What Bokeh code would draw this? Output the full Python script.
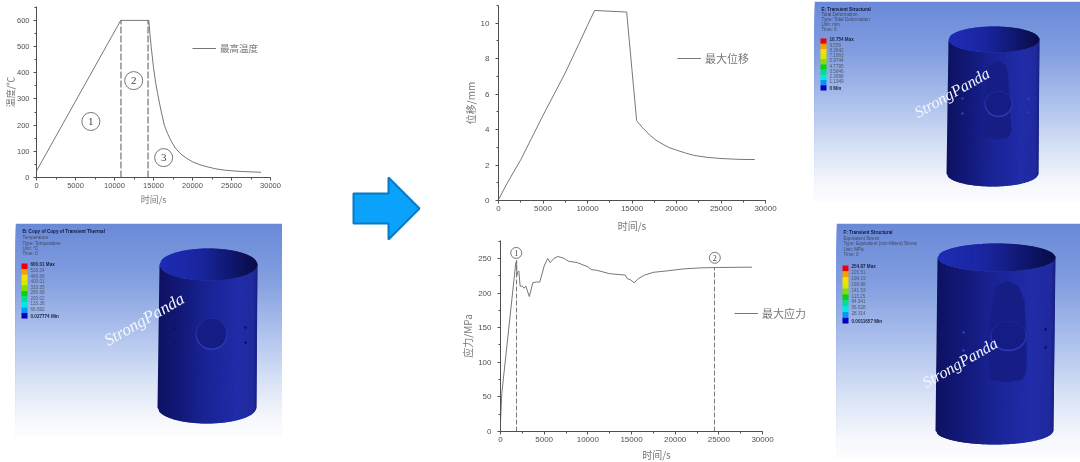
import numpy as np
from bokeh.core.properties import value
from bokeh.embed import file_html
from bokeh.layouts import column, row
from bokeh.models import Legend, LegendItem, Range1d, SingleIntervalTicker
from bokeh.plotting import figure
from bokeh.resources import INLINE

# ---- chart data ----
temp_t = [0, 10800, 14400, 14550, 14700, 15000, 15260, 15530, 16000, 16390, 16800, 17250, 17800, 18500, 19200, 20000, 21000, 22000, 23000, 24100, 26200, 28800]
temp_v = [25, 600, 600, 545, 500, 420, 365, 320, 250, 200, 168, 140, 112, 90, 74, 60, 48, 40, 33, 28, 23, 20]
temp_marks = [10830, 14300]
temp_mark_top = [600, 600]
temp_circle_t = [6970, 12460, 16300]
temp_circle_v = [214, 370, 76]
temp_circle_labels = ["1", "2", "3"]

disp_t = [0, 1000, 2500, 3700, 5000, 6250, 7500, 9000, 10000, 10800, 14400, 15000, 15520, 16200, 17020, 17700, 18500, 19200, 20000, 21000, 21900, 23500, 25000, 27000, 28800]
disp_v = [0.05, 1.0, 2.3, 3.5, 4.8, 6.0, 7.2, 8.8, 9.88, 10.72, 10.63, 7.35, 4.5, 4.1, 3.68, 3.4, 3.16, 2.98, 2.84, 2.68, 2.55, 2.43, 2.37, 2.32, 2.31]

stress_t = [0, 150, 1750, 1850, 1870, 1950, 2100, 2250, 2500, 2700, 2900, 3300, 3700, 4100, 4500, 5000, 5400, 5700, 6100, 6600, 7300,
            7800, 8800, 10000, 10400, 11000, 12500, 14300, 14500, 14900, 15300, 15800, 16500, 17500, 19000, 21000, 23000, 25000, 28800]
stress_v = [15, 55, 244, 247, 225, 230, 232, 210, 210, 207, 210, 195, 215, 216, 216, 239, 250, 244, 250, 253, 250,
            246, 244, 238, 234, 233, 228, 226, 221, 219, 215, 221, 226, 230, 232, 235, 236.5, 237, 237.5]
stress_marks = [1835, 24500]
stress_mark_top = [247, 237]
stress_circle_t = [1800, 24540]
stress_circle_v = [258, 251]
stress_circle_labels = ["1", "2"]

legend_colors = ["#ee0000", "#f5a000", "#f5e000", "#d8e800", "#80e000", "#00d800", "#00e090", "#00e8e8", "#0098f0", "#0000c0"]
temp_levels = ["600.01 Max", "533.34", "466.68", "400.01", "333.35", "266.68", "200.02", "133.36", "66.692", "0.027774 Min"]
disp_levels = ["10.754 Max", "9.559", "8.3642", "7.1693", "5.9744", "4.7795", "3.5846", "2.3898", "1.1949", "0 Min"]
stress_levels = ["254.87 Max", "226.51", "198.19", "169.88", "141.53", "113.25", "84.941", "56.628", "28.314", "0.0011657 Min"]
temp_head = ["B: Copy of Copy of Transient Thermal", "Temperature", "Type: Temperature", "Unit: °C", "Time: 0"]
disp_head = ["E: Transient Structural", "Total Deformation", "Type: Total Deformation", "Unit: mm", "Time: 0"]
stress_head = ["F: Transient Structural", "Equivalent Stress", "Type: Equivalent (von-Mises) Stress", "Unit: MPa", "Time: 0"]

AX = "#505050"
TXT = "#777777"
LINE = "#777777"
SANS = "Liberation Sans"
CJK = "Noto Sans CJK SC"
SOFT = {"filter": "blur(0.4px)"}


def chart(frame_w, frame_h, x_end, y_end, y_major, xlab, ylab, left, right, top, bottom, tick_font, standoff, xstand, lab_font="10px", ystand=0):
    p = figure(frame_width=frame_w, frame_height=frame_h, x_range=Range1d(0, x_end), y_range=Range1d(0, y_end),
               output_backend="svg", toolbar_location=None, min_border_left=left, min_border_right=right,
               min_border_top=top, min_border_bottom=bottom, outline_line_color=None, styles=SOFT)
    p.grid.visible = False
    p.xaxis.ticker = SingleIntervalTicker(interval=5000, num_minor_ticks=2)
    p.yaxis.ticker = SingleIntervalTicker(interval=y_major, num_minor_ticks=2)
    p.xaxis.bounds = (0, 30000)
    p.xaxis.axis_label = xlab
    p.yaxis.axis_label = ylab
    for ax in (p.xaxis[0], p.yaxis[0]):
        ax.axis_line_color = AX
        ax.major_tick_line_color = AX
        ax.minor_tick_line_color = AX
        ax.major_tick_out = 3
        ax.major_tick_in = 0
        ax.minor_tick_out = 2
        ax.minor_tick_in = 0
        ax.major_label_text_font = SANS
        ax.major_label_text_font_size = tick_font
        ax.major_label_text_color = AX
        ax.axis_label_text_font = CJK
        ax.axis_label_text_font_size = lab_font
        ax.axis_label_text_font_style = "normal"
        ax.axis_label_text_color = TXT
    p.yaxis.major_label_standoff = standoff
    p.yaxis.axis_label_standoff = ystand
    p.xaxis.major_label_standoff = 2
    p.xaxis.axis_label_standoff = xstand
    return p


def add_legend(p, r, label, x, y, size):
    lg = Legend(items=[LegendItem(label=label, renderers=[r])], location=(x, y), border_line_color=None,
                background_fill_alpha=0, padding=0, margin=0, glyph_width=24, glyph_height=8, label_standoff=4,
                label_text_font=CJK, label_text_font_size=size, label_text_color=TXT, label_height=10)
    p.add_layout(lg)


def circles(p, xs, ys, labels, size, font):
    p.scatter(xs, ys, marker="circle", size=size, fill_color=None, line_color="#555555", line_width=0.8)
    p.text(xs, ys, text=labels, text_font=value("Liberation Serif"), text_font_size=font, text_align="center",
           text_baseline="middle", text_color="#444444")


# ---- the three curves ----
f1 = chart(234, 171, 30000, 653, 100, "时间/s", "温度/℃", 36, 30, 6, 46, "7.5px", 4, 2, "9px", -3)
r1 = f1.line(temp_t, temp_v, line_color=LINE, line_width=1)
f1.segment(temp_marks, [0, 0], temp_marks, temp_mark_top, line_color="#555555", line_width=1, line_dash="7 2")
circles(f1, temp_circle_t, temp_circle_v, temp_circle_labels, 18, "11px")
add_legend(f1, r1, "最高温度", 156, 122, "9.5px")

f2 = chart(267, 195, 30000, 11, 2, "时间/s", "位移/mm", 48, 47, 5, 35, "8px", 6, 4)
r2 = f2.line(disp_t, disp_v, line_color=LINE, line_width=1)
add_legend(f2, r2, "最大位移", 179, 134, "11px")

# the frame runs on past the axis so that the legend to the right of it stays visible
f3 = chart(312, 191, 35725, 276, 50, "时间/s", "应力/MPa", 50, 0, 5, 31, "8px", 6, 2)
r3 = f3.line(stress_t, stress_v, line_color=LINE, line_width=1)
f3.segment(stress_marks, [0, 0], stress_marks, stress_mark_top, line_color="#777777", line_width=1, line_dash="5 2")
circles(f3, stress_circle_t, stress_circle_v, stress_circle_labels, 11, "8px")
add_legend(f3, r3, "最大应力", 234, 110, "11px")


# ---- simulation screenshots, drawn in picture coordinates ----
def hexcolor(c):
    return "#%02x%02x%02x" % tuple(int(round(v)) for v in c)


def ramp(stops, t):
    ts = [s[0] for s in stops]
    return hexcolor([np.interp(t, ts, [s[1][k] for s in stops]) for k in range(3)])


SKY = [(0, (106, 138, 216)), (0.25, (130, 158, 224)), (0.5, (172, 192, 236)), (0.75, (218, 228, 246)), (0.92, (246, 248, 252)), (1, (252, 252, 253))]
BODY = [(0, (14, 18, 98)), (0.2, (18, 24, 118)), (0.5, (26, 36, 150)), (0.8, (32, 44, 168)), (0.96, (32, 42, 158)), (1, (24, 32, 130))]
INNER = [(0, (30, 44, 180)), (0.4, (26, 38, 160)), (0.8, (14, 20, 100)), (1, (8, 12, 70))]


def panel(x0, x1, y0, y1, left, top, frame_w, frame_h):
    p = figure(frame_width=frame_w, frame_height=frame_h, x_range=Range1d(x0, x1), y_range=Range1d(y1, y0),
               x_axis_type=None, y_axis_type=None, output_backend="svg", toolbar_location=None,
               min_border_left=left, min_border_top=top, min_border_right=0, min_border_bottom=0, outline_line_color=None, styles=SOFT)
    p.grid.visible = False
    edges = np.linspace(y0, y1, 61)
    cols = [ramp(SKY, t) for t in np.linspace(0, 1, 60)]
    # every band runs down to the foot of the picture, so that no seam can show
    p.quad(left=x0, right=x1, top=edges[:-1], bottom=y1, fill_color=cols, line_color=None)
    return p


def cylinder(p, tl, tr, tc, bl, br, bc, ry):
    us = np.linspace(0, 1, 71)
    xs, ys, cs = [], [], []
    xi, yi, ci = [], [], []
    for a, b in zip(us[:-1], us[1:]):
        b2 = min(b + 0.012, 1)
        xa_t, xb_t = tl + a * (tr - tl), tl + b2 * (tr - tl)
        xa_b, xb_b = bl + a * (br - bl), bl + b2 * (br - bl)
        d = lambda u: ry * np.sqrt(max(0, 1 - (2 * u - 1) ** 2))
        xs.append([xa_t, xb_t, xb_b, xa_b])
        ys.append([tc + d(a), tc + d(b2), bc + d(b2), bc + d(a)])
        cs.append(ramp(BODY, (a + b) / 2))
        xi.append([xa_t, xb_t, xb_t, xa_t])
        yi.append([tc - d(a), tc - d(b2), tc + d(b2), tc + d(a)])
        ci.append(ramp(INNER, (a + b) / 2))
    p.patches(xs, ys, fill_color=cs, line_color=None)
    p.patches(xi, yi, fill_color=ci, line_color=None)


def hole(p, cx, cy, rx, ry):
    p.ellipse([cx], [cy + 0.8], width=2 * rx + 2, height=2 * ry + 2, fill_color="#2a38b4", line_color=None)
    p.ellipse([cx], [cy], width=2 * rx, height=2 * ry, fill_color="#151c84", line_color=None)


def dots(p, xs, ys, color="#0c1060"):
    p.ellipse(xs, ys, width=2.8, height=2.4, fill_color=color, line_color=None)


def key(p, x, y_top, y_bot, head, head_y, levels, font="4.6px"):
    h = (y_bot - y_top) / 10
    tops = [y_top + i * h for i in range(10)]
    p.quad(left=x, right=x + 6, top=tops, bottom=[t + h for t in tops], fill_color=legend_colors, line_color=None)
    lx = [x + 9] * 10
    ly = [t + 0.2 * h for t in tops]
    p.text(lx[1:-1], ly[1:-1], text=levels[1:-1], text_font=value(SANS), text_font_size=font, text_baseline="middle", text_color="#505868")
    p.text([lx[0], lx[-1]], [ly[0], ly[-1] + 0.5 * h], text=[levels[0], levels[-1]], text_font=value(SANS), text_font_size=font,
           text_font_style="bold", text_baseline="middle", text_color="#1a2040")
    p.text([x + 1], [head_y[0]], text=[head[0]], text_font=value(SANS), text_font_size=font, text_font_style="bold", text_baseline="middle", text_color="#101838")
    p.text([x + 1] * 4, head_y[1:], text=head[1:], text_font=value(SANS), text_font_size=font, text_baseline="middle", text_color="#404860")


def mark(p, x, y, size, angle=0.52):
    p.text([x], [y], text=["StrongPanda"], angle=[angle], text_font=value("Liberation Serif"), text_font_size=size,
           text_font_style="italic", text_color="#f4f6fc", text_baseline="middle")


# left picture
pa = panel(15, 282, 223, 437, 15, 0, 267, 214)
cylinder(pa, 159, 257, 264, 157, 256, 407, 16)
hole(pa, 211, 333, 15, 15)
dots(pa, [175, 175, 245, 245], [328, 343, 327, 342])
key(pa, 21, 263, 318, temp_head, [231, 237, 243, 248, 253], temp_levels)
mark(pa, 105, 341, "17px")

# upper right picture
pb = panel(814, 1080, 1, 202, 2, 1, 266, 201)
cylinder(pb, 948, 1039, 39, 946, 1038, 173, 13)
zone_bx = [998, 988, 985, 984, 983, 982, 984, 998, 1008, 1011, 1010, 1009, 1008, 1006]
zone_by = [60, 66, 80, 100, 118, 130, 137, 139, 137, 130, 118, 100, 80, 66]
pb.patch(zone_bx, zone_by, fill_color="#161e86", line_color=None)
hole(pb, 998, 103, 13, 12)
dots(pb, [962, 962, 1028, 1028], [98, 113, 98, 112], "#2c3cc0")
key(pb, 820, 38, 90, disp_head, [9, 14, 19, 24, 29], disp_levels)
mark(pb, 915, 113, "16px")

# lower right picture
pc = panel(836, 1080, 223, 458, 24, 21, 244, 235)
cylinder(pc, 937, 1055, 257, 935, 1053, 430, 14)
zone_cx = [1007, 996, 992, 990, 989, 988, 990, 1006, 1022, 1026, 1026, 1025, 1024, 1018]
zone_cy = [280, 286, 300, 320, 345, 370, 379, 382, 379, 370, 345, 320, 300, 286]
pc.patch(zone_cx, zone_cy, fill_color="#161e86", line_color=None)
hole(pc, 1008, 335, 17, 14)
dots(pc, [963, 963], [332, 350], "#2c3cc0")
dots(pc, [1045, 1045], [329, 347])
key(pc, 842, 265, 323, stress_head, [232, 237.5, 243, 249, 254], stress_levels)
mark(pc, 923, 383, "16px")

# arrow between the two groups
arrow_x = [353, 388, 388, 419, 388, 388, 353]
arrow_y = [193, 193, 177, 208, 239, 223, 223]
ar = figure(frame_width=150, frame_height=454, x_range=Range1d(300, 450), y_range=Range1d(454, 0), x_axis_type=None,
            y_axis_type=None, output_backend="svg", toolbar_location=None, min_border=0, outline_line_color=None, styles=SOFT)
ar.grid.visible = False
ar.patch(arrow_x, arrow_y, fill_color="#0aa2fb", line_color="#0a78c4", line_width=2)

page = row(column(row(f1), row(pa), spacing=0), ar, column(row(f2), row(f3), spacing=0), column(row(pb), row(pc), spacing=0), spacing=0)
open("out.html", "w").write(file_html(page, INLINE))
